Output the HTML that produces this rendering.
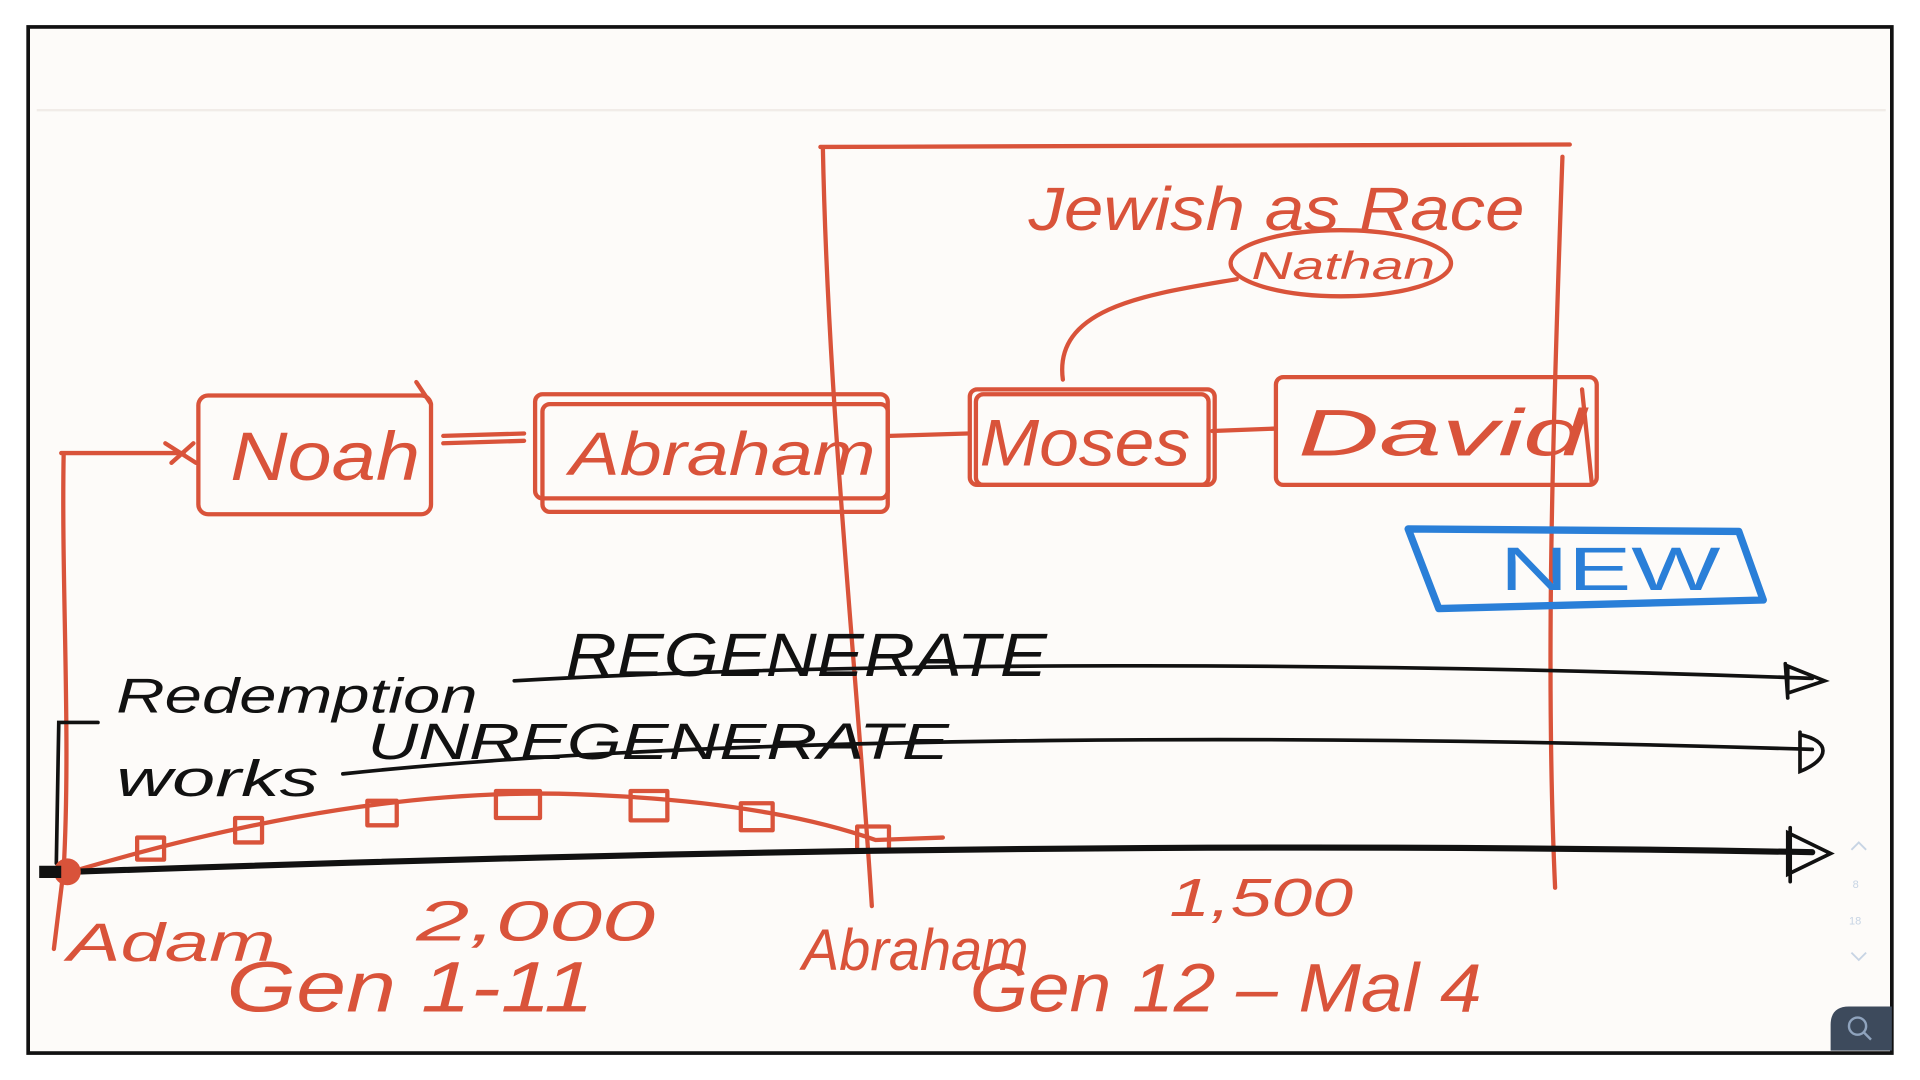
<!DOCTYPE html>
<html><head><meta charset="utf-8"><style>
html,body{margin:0;padding:0;background:#fff;width:1920px;height:1080px;overflow:hidden}
svg{display:block}
text{font-family:"Liberation Sans",sans-serif}
</style></head><body>
<svg width="1920" height="1080" viewBox="0 0 1568 882" preserveAspectRatio="none">
<rect x="0" y="0" width="1568" height="882" fill="#fff"/>
<rect x="23" y="22" width="1522" height="838" fill="#fdfbf9" stroke="#111" stroke-width="3"/>
<line x1="30" y1="90" x2="1540" y2="90" stroke="#f1ece8" stroke-width="2"/>
<g fill="none" stroke="#d9533a" stroke-width="3.5" stroke-linecap="round" stroke-linejoin="round">
<path d="M670 120 L1282 118 M672 120 C676 330 700 550 712 740 M1276 128 C1268 350 1262 550 1270 725"/>
<ellipse cx="1095" cy="215" rx="90" ry="27"/>
<path d="M1010 228 C940 240 860 250 868 310"/>
<rect x="162" y="323" width="190" height="97" rx="8"/>
<path d="M340 312 L352 330"/>
<rect x="437" y="322" width="288" height="85" rx="6"/>
<rect x="443" y="330" width="282" height="88" rx="6"/>
<rect x="792" y="318" width="200" height="78" rx="6"/>
<rect x="797" y="322" width="190" height="74" rx="6"/>
<rect x="1042" y="308" width="262" height="88" rx="6"/>
<path d="M1292 318 L1300 395"/>
<path d="M362 356 L428 354 M362 362 L428 360 M727 356 L790 354 M990 352 L1042 350"/>
<path d="M50 370 L150 370 M52 370 C50 480 58 600 52 710 M52 710 L44 775"/>
<path d="M135 362 L160 378 M140 378 L158 362"/>
<path d="M58 712 C200 670 350 640 500 650 C600 655 670 670 715 686 L770 684"/>
<rect x="112" y="684" width="22" height="18"/><rect x="192" y="668" width="22" height="20"/>
<rect x="300" y="654" width="24" height="20"/><rect x="405" y="646" width="36" height="22"/>
<rect x="515" y="646" width="30" height="24"/><rect x="605" y="656" width="26" height="22"/>
<rect x="700" y="675" width="26" height="20"/>
</g>
<g fill="none" stroke="#111" stroke-width="3" stroke-linecap="round">
<path d="M420 556 C700 540 1100 540 1480 554"/>
<path d="M1460 544 L1490 556 L1460 566 Z M1458 542 L1460 570"/>
<path d="M280 632 C600 598 1100 600 1480 612"/>
<path d="M1470 600 C1495 605 1495 620 1470 630 L1470 598"/>
<path d="M58 712 C400 700 900 685 1480 696" stroke-width="5"/>
<path d="M1460 680 L1495 697 L1460 714 Z M1462 676 L1462 720"/>
<path d="M55 590 L48 590 L46 705 M55 590 L80 590"/>
</g>
<circle cx="55" cy="712" r="11" fill="#d9533a"/>
<path d="M32 712 L50 712" stroke="#111" stroke-width="10"/>
<path d="M1150 432 L1420 434 L1440 490 L1175 497 Z" fill="none" stroke="#2a7fd8" stroke-width="6" stroke-linejoin="round"/>
<text x="1225" y="482" font-size="50" fill="#2a7fd8" textLength="180" lengthAdjust="spacingAndGlyphs">NEW</text>
<g fill="#d9533a" font-style="italic">
<text x="840" y="188" font-size="50" textLength="405" lengthAdjust="spacingAndGlyphs">Jewish as Race</text>
<text x="1022" y="228" font-size="32" textLength="150" lengthAdjust="spacingAndGlyphs">Nathan</text>
<text x="188" y="392" font-size="56" textLength="155" lengthAdjust="spacingAndGlyphs">Noah</text>
<text x="465" y="388" font-size="50" textLength="250" lengthAdjust="spacingAndGlyphs">Abraham</text>
<text x="800" y="380" font-size="54" textLength="172" lengthAdjust="spacingAndGlyphs">Moses</text>
<text x="1060" y="372" font-size="54" textLength="235" lengthAdjust="spacingAndGlyphs">David</text>
<text x="55" y="785" font-size="44" textLength="170" lengthAdjust="spacingAndGlyphs">Adam</text>
<text x="340" y="768" font-size="46" textLength="195" lengthAdjust="spacingAndGlyphs">2,000</text>
<text x="185" y="826" font-size="58" textLength="300" lengthAdjust="spacingAndGlyphs">Gen 1-11</text>
<text x="655" y="792" font-size="48" textLength="185" lengthAdjust="spacingAndGlyphs">Abraham</text>
<text x="955" y="748" font-size="44" textLength="150" lengthAdjust="spacingAndGlyphs">1,500</text>
<text x="792" y="826" font-size="56" textLength="418" lengthAdjust="spacingAndGlyphs">Gen 12 – Mal 4</text>
</g>
<g fill="#111" font-style="italic">
<text x="462" y="552" font-size="50" textLength="393" lengthAdjust="spacingAndGlyphs">REGENERATE</text>
<text x="95" y="582" font-size="40" textLength="295" lengthAdjust="spacingAndGlyphs">Redemption</text>
<text x="300" y="620" font-size="42" textLength="475" lengthAdjust="spacingAndGlyphs">UNREGENERATE</text>
<text x="95" y="650" font-size="42" textLength="165" lengthAdjust="spacingAndGlyphs">works</text>
</g>
<g fill="none" stroke="#c7d4e4" stroke-width="1.5"><path d="M1512 694 L1518 688 L1524 694 M1512 778 L1518 784 L1524 778"/></g>
<text x="1513" y="725" font-size="9" fill="#c7d4e4">8</text>
<text x="1510" y="755" font-size="9" fill="#c7d4e4">18</text>
<path d="M1510 822 Q1495 822 1495 837 L1495 858 L1545 858 L1545 822 Z" fill="#3d4a5c"/>
<circle cx="1517" cy="838" r="7" fill="none" stroke="#8fa3bd" stroke-width="2"/>
<path d="M1522 843 L1528 849" stroke="#8fa3bd" stroke-width="2"/>
</svg>
</body></html>
